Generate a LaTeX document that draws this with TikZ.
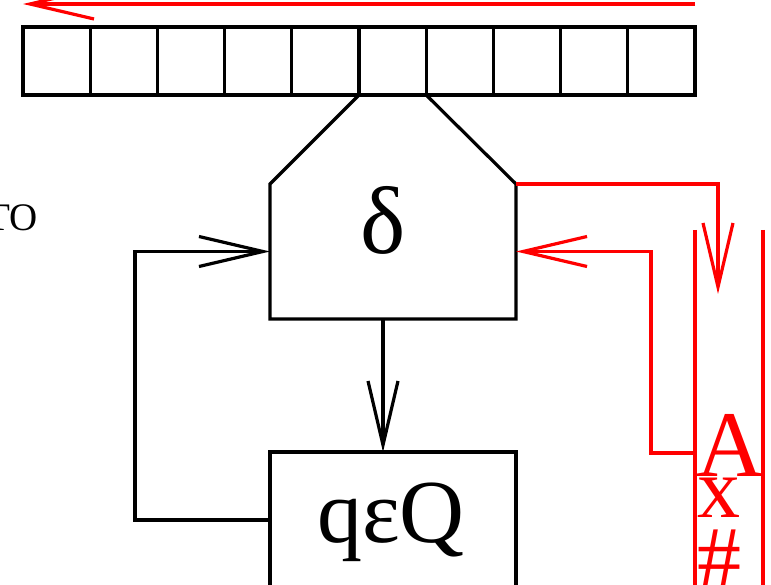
\documentclass[tikz,border=0pt]{standalone}
\usepackage{fontspec}
\setmainfont{Liberation Serif}
\usetikzlibrary{arrows.meta,calc}

\begin{document}
\begin{tikzpicture}[x=1pt,y=-1pt,line width=3.2pt,
  cell/.style={draw,minimum width=67.2pt,minimum height=68pt,inner sep=0pt,outer sep=0pt,anchor=north west},
  barb/.style={-{Straight Barb[length=64pt,width=30pt,line width=3.2pt]}},
  big/.style={font=\fontsize{#1}{#1}\selectfont,inner sep=0pt,outer sep=0pt}]
\useasboundingbox (0,0) rectangle (771,585);

% tape of ten cells
\foreach \i in {1,...,10}
  \node[cell] (c\i) at ({23+67.2*(\i-1)},27) {};

% head movement along the tape
\coordinate (mvR) at (695,4);
\coordinate (mvL) at (23,4);
\draw[red,barb] (mvR) -- (mvL);

% partial label on the left
\node[big=39,anchor=base east] (lbl) at (38,231) {TO};

% control unit delta, hanging from the scanned cell
\node[minimum width=246pt,minimum height=135pt,inner sep=0pt,outer sep=0pt] (head) at (393,251.5) {};
\draw (c6.south west) -- (head.north west) -- (head.south west)
      -- (head.south east) -- (head.north east) -- (c6.south east);
\node[big=96,anchor=base] (delta) at (383,254) {δ};

% state register
\node[draw,minimum width=246pt,minimum height=136pt,inner sep=0pt,outer sep=0pt] (qbox) at (393,520) {};
\node[big=90,anchor=base] (qtext) at (391,542) {qεQ};

\draw[barb] (delta |- head.south) -- (delta |- qbox.north);
\draw[barb] (qbox.west) -- ++(-135,0) |- (head.west);

% stack
\coordinate (stL) at (695,230);
\coordinate (stR) at (763,230);
\draw[red] (stL) -- ++(0,360);
\draw[red] (stR) -- ++(0,360);
\node[red,big=94,anchor=base west] (symA) at (696,476) {A};
\node[red,big=86,anchor=base west] (symx) at (697,517) {x};
\node[red,big=88,anchor=base west] (symh) at (697,587) {\#};

% push into and pop from the stack
\coordinate (push) at (718,294);
\draw[red,barb] (head.north east) -| (push);
\coordinate (pop) at (695,453);
\draw[red,barb] (pop) -- ++(-44,0) |- (head.east);
\end{tikzpicture}
\end{document}
